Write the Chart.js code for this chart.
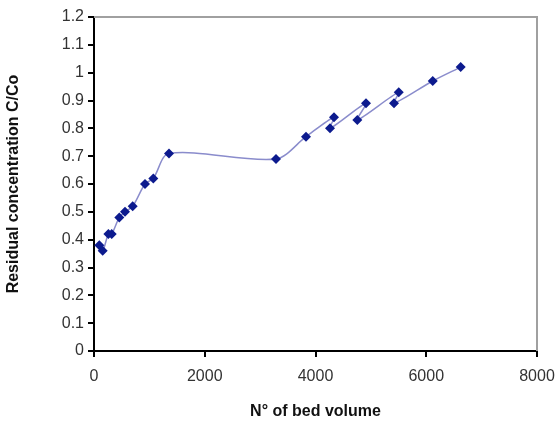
<!DOCTYPE html>
<html>
<head>
<meta charset="utf-8">
<script src="https://cdn.jsdelivr.net/npm/chart.js@4"></script>
<style>
  html, body { margin: 0; padding: 0; background: #fff; }
  #wrap { width: 556px; height: 425px; }
</style>
</head>
<body>
<div id="wrap"><canvas id="grafico"></canvas></div>
<script>
    // bed volumes and C/Co, in the order the curve runs through them
    const volumes = [96, 157, 260, 320, 457, 560, 699, 921, 1071, 1354, 3287, 3828, 4334, 4262, 4912, 4755, 5503, 5418, 6117, 6622];
    const concentracao = [0.38, 0.36, 0.42, 0.42, 0.48, 0.50, 0.52, 0.60, 0.62, 0.71, 0.69, 0.77, 0.84, 0.80, 0.89, 0.83, 0.93, 0.89, 0.97, 1.02];

    const xTicks = [0, 2000, 4000, 6000, 8000];
    const yTicks = [0, 0.1, 0.2, 0.3, 0.4, 0.5, 0.6, 0.7, 0.8, 0.9, 1, 1.1, 1.2];

    const pontos = volumes.map((v, i) => ({ x: v, y: concentracao[i] }));

    // grey plot-area border on top and right, like the spreadsheet chart
    const bordaCinza = {
      id: 'bordaCinza',
      afterDatasetsDraw(chart) {
        const a = chart.chartArea;
        const ctx = chart.ctx;
        ctx.save();
        ctx.strokeStyle = '#a0a0a0';
        ctx.lineWidth = 2;
        ctx.beginPath();
        ctx.moveTo(a.left, a.top);
        ctx.lineTo(a.right, a.top);
        ctx.lineTo(a.right, a.bottom);
        ctx.stroke();
        ctx.restore();
      }
    };

    new Chart(document.getElementById('grafico'), {
      type: 'scatter',
      data: {
        datasets: [{
          data: pontos,
          showLine: true,
          tension: 0.3,
          borderColor: '#8a8ccc',
          borderWidth: 1.5,
          pointStyle: 'rectRot',
          pointRadius: 5,
          pointHoverRadius: 5,
          pointBackgroundColor: '#0c1a8e',
          pointBorderColor: '#0c1a8e',
          pointBorderWidth: 0
        }]
      },
      options: {
        responsive: true,
        maintainAspectRatio: false,
        animation: false,
        layout: { padding: { top: 17, right: 19, left: 0, bottom: 0 } },
        plugins: {
          legend: { display: false },
          tooltip: { enabled: false }
        },
        scales: {
          x: {
            type: 'linear',
            min: 0,
            max: 8000,
            afterBuildTicks: s => { s.ticks = xTicks.map(v => ({ value: v })); },
            afterFit: s => { s.height = 74; s.paddingRight = 0; s.paddingLeft = 0; },
            border: { color: '#000', width: 2 },
            grid: { drawOnChartArea: false, drawTicks: true, tickLength: 6, color: '#000', lineWidth: 2 },
            ticks: {
              color: '#333',
              font: { family: 'Liberation Sans', size: 16 },
              padding: 10,
              maxRotation: 0,
              callback: v => String(v)
            },
            title: {
              display: true,
              text: 'N° of bed volume',
              color: '#111',
              font: { family: 'Liberation Sans', size: 16, weight: 'bold' },
              padding: { top: 14 }
            }
          },
          y: {
            min: 0,
            max: 1.2,
            afterBuildTicks: s => { s.ticks = yTicks.map(v => ({ value: v })); },
            afterFit: s => { s.width = 94; },
            border: { color: '#000', width: 2 },
            grid: { drawOnChartArea: false, drawTicks: true, tickLength: 6, color: '#000', lineWidth: 2 },
            ticks: {
              color: '#333',
              font: { family: 'Liberation Sans', size: 16 },
              padding: 4,
              callback: v => String(Math.round(v * 10) / 10)
            },
            title: {
              display: true,
              text: 'Residual concentration C/Co',
              color: '#111',
              font: { family: 'Liberation Sans', size: 16, weight: 'bold' },
              padding: { bottom: 6 }
            }
          }
        }
      },
      plugins: [bordaCinza]
    });
</script>
</body>
</html>
